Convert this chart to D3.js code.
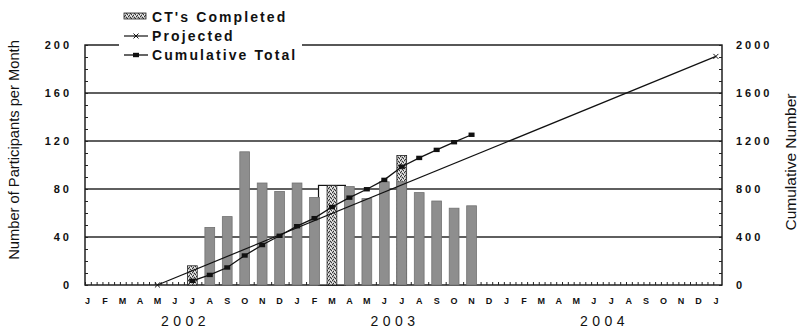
<!DOCTYPE html>
<html>
<head>
<meta charset="utf-8">
<script src="https://cdn.jsdelivr.net/npm/d3@7"></script>
<style>
  body { margin: 0; background: #fff; }
  svg { display: block; font-family: "Liberation Sans", Arial, sans-serif; }
</style>
</head>
<body>
<div id="chart"></div>
<script>
// month index 0 = Jan 2002 ... 36 = Jan 2005
const monthLabels = 'JFMAMJJASONDJFMAMJJASONDJFMAMJJASONDJ'.split('');
const years = [{ label: '2002', mid: 5.5 }, { label: '2003', mid: 17.5 }, { label: '2004', mid: 29.5 }];

// participants per month (grey bars)
const monthIdx = [7, 8, 9, 10, 11, 12, 13, 15, 16, 17, 18, 19, 20, 21, 22];
const monthValues = [48, 57, 111, 85, 78, 85, 73, 82, 72, 86, 86, 77, 70, 64, 66];

// CT's completed (stippled bars)
const ctIdx = [6, 14, 18];
const ctValues = [16, 83, 108];

// open framed box around the March 2003 CT bar
const frameIdx = [14];
const frameValues = [83];

// cumulative total (right axis)
const cumIdx = [6, 7, 8, 9, 10, 11, 12, 13, 14, 15, 16, 17, 18, 19, 20, 21, 22];
const cumValues = [35, 84, 146, 246, 333, 410, 490, 557, 650, 728, 798, 876, 986, 1059, 1126, 1190, 1252];

// projected (right axis)
const projIdx = [4, 36];
const projValues = [0, 1905];

const leftTicks = [0, 40, 80, 120, 160, 200];
const rightTicks = [0, 400, 800, 1200, 1600, 2000];

const W = 801, H = 330;
const svg = d3.select('#chart').append('svg').attr('width', W).attr('height', H);

const x = d3.scaleLinear().domain([-0.15, 36.35]).range([85, 722]);
const y = d3.scaleLinear().domain([0, 200]).range([285, 45]);
const y2 = d3.scaleLinear().domain([0, 2000]).range([285, 45]);
const step = x(1) - x(0);

// stipple pattern for CT bars
const defs = svg.append('defs');
const pat = defs.append('pattern').attr('id', 'stip').attr('patternUnits', 'userSpaceOnUse')
    .attr('width', 4).attr('height', 4);
pat.append('rect').attr('width', 4).attr('height', 4).attr('fill', '#b8b8b8');
[[0, 0], [2, 1], [1, 3], [3, 2]].forEach(([a, b]) => pat.append('rect').attr('x', a).attr('y', b).attr('width', 1).attr('height', 1).attr('fill', '#333'));
[[2, 3], [0, 2], [3, 0]].forEach(([a, b]) => pat.append('rect').attr('x', a).attr('y', b).attr('width', 1).attr('height', 1).attr('fill', '#f4f4f4'));

// gridlines
svg.append('g').selectAll('line').data([40, 80, 120, 160]).join('line')
    .attr('x1', x.range()[0]).attr('x2', x.range()[1])
    .attr('y1', d => y(d)).attr('y2', d => y(d))
    .attr('stroke', '#2a2a2a').attr('stroke-width', 1.3);

// frame
svg.append('rect').attr('x', x.range()[0]).attr('y', y(200))
    .attr('width', x.range()[1] - x.range()[0]).attr('height', y(0) - y(200))
    .attr('fill', 'none').attr('stroke', '#111').attr('stroke-width', 1.4);

// minor ticks (inside)
svg.append('g').attr('transform', `translate(${x.range()[0]},0)`)
    .call(d3.axisRight(y).tickValues(d3.range(0, 201, 10)).tickSize(3).tickFormat(''))
    .call(g => g.select('.domain').remove())
    .selectAll('line').attr('stroke', '#222');
svg.append('g').attr('transform', `translate(${x.range()[1]},0)`)
    .call(d3.axisLeft(y2).tickValues(d3.range(0, 2001, 100)).tickSize(3).tickFormat(''))
    .call(g => g.select('.domain').remove())
    .selectAll('line').attr('stroke', '#222');
svg.append('g').attr('transform', `translate(0,${y(0)})`)
    .call(d3.axisTop(x).tickValues(d3.range(0, 109).map(k => -0.15 + k / 3)).tickSize(3).tickFormat(''))
    .call(g => g.select('.domain').remove())
    .selectAll('line').attr('stroke', '#222');

// framed box
svg.append('g').selectAll('rect').data(frameIdx).join('rect')
    .attr('x', d => x(d) - step * 0.77).attr('width', step * 1.54)
    .attr('y', (d, i) => y(frameValues[i])).attr('height', (d, i) => y(0) - y(frameValues[i]))
    .attr('fill', '#fff').attr('stroke', '#111').attr('stroke-width', 1.2);

// CT bars
const bw = step * 0.56;
svg.append('g').selectAll('rect').data(ctIdx).join('rect')
    .attr('x', d => x(d) - bw / 2).attr('width', bw)
    .attr('y', (d, i) => y(ctValues[i])).attr('height', (d, i) => y(0) - y(ctValues[i]))
    .attr('fill', 'url(#stip)').attr('stroke', '#222').attr('stroke-width', 0.8);

// monthly bars
svg.append('g').selectAll('rect').data(monthIdx).join('rect')
    .attr('x', d => x(d) - bw / 2).attr('width', bw)
    .attr('y', (d, i) => y(monthValues[i])).attr('height', (d, i) => y(0) - y(monthValues[i]))
    .attr('fill', '#8e8e8e').attr('stroke', '#727272').attr('stroke-width', 0.8);

// projected line
const line = d3.line().x(d => x(d[0])).y(d => y2(d[1]));
const proj = projIdx.map((m, i) => [m, projValues[i]]);
svg.append('path').attr('d', line(proj)).attr('fill', 'none').attr('stroke', '#111').attr('stroke-width', 1.2);
const cross = d3.symbol().type(d3.symbolX).size(18);
svg.append('g').selectAll('path').data(proj).join('path')
    .attr('transform', d => `translate(${x(d[0])},${y2(d[1])})`)
    .attr('d', cross).attr('fill', 'none').attr('stroke', '#111').attr('stroke-width', 1);

// cumulative line
const cum = cumIdx.map((m, i) => [m, cumValues[i]]);
svg.append('path').attr('d', line(cum)).attr('fill', 'none').attr('stroke', '#111').attr('stroke-width', 1.3);
svg.append('g').selectAll('rect').data(cum).join('rect')
    .attr('x', d => x(d[0]) - 3).attr('y', d => y2(d[1]) - 2.2)
    .attr('width', 6).attr('height', 4.4).attr('fill', '#111');

// axis labels
const tickFont = g => g.attr('font-size', 11).attr('font-weight', 'bold').attr('letter-spacing', '3px').attr('fill', '#111');
svg.append('g').selectAll('text').data(leftTicks).join('text')
    .attr('x', 72).attr('y', d => y(d)).attr('dy', '0.35em').attr('text-anchor', 'end')
    .text(d => d).call(tickFont);
svg.append('g').selectAll('text').data(rightTicks).join('text')
    .attr('x', 736).attr('y', d => y2(d)).attr('dy', '0.35em').attr('text-anchor', 'start')
    .text(d => d).call(tickFont);

svg.append('g').selectAll('text').data(monthLabels).join('text')
    .attr('x', (d, i) => x(i)).attr('y', 304).attr('text-anchor', 'middle')
    .attr('font-size', 9).attr('font-weight', 'bold').attr('fill', '#111')
    .text(d => d);

svg.append('g').selectAll('text').data(years).join('text')
    .attr('x', d => x(d.mid) + 2).attr('y', 326).attr('text-anchor', 'middle')
    .attr('font-size', 14).attr('letter-spacing', '4.5px').attr('fill', '#111')
    .text(d => d.label);

svg.append('text').attr('transform', 'translate(19,150) rotate(-90)')
    .attr('text-anchor', 'middle').attr('font-size', 14.7).attr('fill', '#111')
    .text('Number of Participants per Month');
svg.append('text').attr('transform', 'translate(796,162) rotate(-90)')
    .attr('text-anchor', 'middle').attr('font-size', 15.5).attr('fill', '#111')
    .text('Cumulative Number');

// legend
const lg = svg.append('g');
lg.append('rect').attr('x', 119).attr('y', 0).attr('width', 183).attr('height', 63).attr('fill', '#fff');
const legendFont = t => t.attr('font-size', 14).attr('font-weight', 'bold').attr('letter-spacing', '2.1px').attr('fill', '#111');
lg.append('rect').attr('x', 124).attr('y', 13).attr('width', 22).attr('height', 6)
    .attr('fill', 'url(#stip)').attr('stroke', '#222').attr('stroke-width', 0.8);
lg.append('text').attr('x', 152).attr('y', 22).text("CT's Completed").call(legendFont);
lg.append('line').attr('x1', 124).attr('x2', 148).attr('y1', 36).attr('y2', 36).attr('stroke', '#111').attr('stroke-width', 1.2);
lg.append('path').attr('transform', 'translate(136,36)').attr('d', cross).attr('fill', 'none').attr('stroke', '#111');
lg.append('text').attr('x', 152).attr('y', 41).text('Projected').call(legendFont);
lg.append('line').attr('x1', 124).attr('x2', 148).attr('y1', 55).attr('y2', 55).attr('stroke', '#111').attr('stroke-width', 1.3);
lg.append('rect').attr('x', 133).attr('y', 52.8).attr('width', 6).attr('height', 4.4).attr('fill', '#111');
lg.append('text').attr('x', 152).attr('y', 60).text('Cumulative Total').call(legendFont);
</script>
</body>
</html>
